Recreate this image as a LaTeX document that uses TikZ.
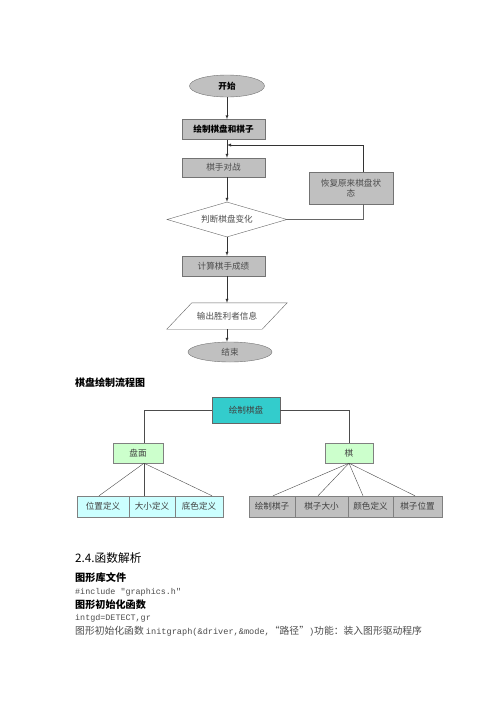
\documentclass[tikz,border=0pt]{standalone}
\usepackage{fontspec}
\setmainfont{Liberation Serif}
\newfontfamily\cjk{Noto Sans CJK SC}
\newfontfamily\mono{Liberation Mono}
\usetikzlibrary{arrows,shapes,shapes.geometric,calc}
\definecolor{teal1}{RGB}{51,204,204}
\definecolor{green1}{RGB}{204,255,204}
\definecolor{cyan1}{RGB}{204,255,255}
\definecolor{gray1}{RGB}{192,192,192}

\begin{document}
\begin{tikzpicture}[x=1pt,y=-1pt,font=\cjk\fontsize{8.6}{10}\selectfont,>=latex,
  graybox/.style={draw=black!55,fill=gray1,inner sep=0pt,text=black!70},
  treebox/.style={draw=black!50,inner sep=0pt,minimum height=21pt,text=black!75},
  flow/.style={color=black!80,->},
  link/.style={color=black!70}]
\useasboundingbox[fill=white] (0,0) rectangle (500,707);
% flow chart
\node (kaishi) at (227,86) [graybox,ellipse,minimum width=75pt,minimum height=22pt,text=black] {\textbf{开始}};
\node (huizhi) at (223.5,129.5) [graybox,minimum width=83pt,minimum height=20pt,text=black] {\textbf{绘制棋盘和棋子}};
\node (duizhan) at (223.5,167.5) [graybox,minimum width=83pt,minimum height=19pt] {棋手对战};
\node (huifu) at (351,188) [graybox,minimum width=84pt,minimum height=32pt,align=center] {恢复原来棋盘状\\态};
\node (panduan) at (227,219.5) [diamond,draw=black!60,fill=white,aspect=3.4,inner sep=0pt,minimum width=120pt,minimum height=35pt,text=black!70] {判断棋盘变化};
\node (jisuan) at (223.5,266) [graybox,minimum width=83pt,minimum height=20pt] {计算棋手成绩};
\node (shuchu) at (227,316) [inner sep=0pt,minimum width=95pt,minimum height=26pt,text=black!70] {输出胜利者信息};
\draw[color=black!60] ($(shuchu.south west)+(-12.5,0)$) -- ($(shuchu.north west)+(12.5,0)$)
  -- ($(shuchu.north east)+(12.5,0)$) -- ($(shuchu.south east)+(-12.5,0)$) -- cycle;
\node (jieshu) at (230,352) [graybox,ellipse,minimum width=84pt,minimum height=20pt] {结束};
\coordinate (fb) at (227,145);
\coordinate (fbx) at (363,188);
\draw[flow] (kaishi.south) -- (kaishi.south |- huizhi.north);
\draw[flow] (kaishi.south |- huizhi.south) -- (kaishi.south |- duizhan.north);
\draw[flow] (huifu.north -| fbx) |- (fb);
\draw[flow] (panduan.north |- duizhan.south) -- (panduan.north);
\draw[link,color=black!60] (panduan.east) -| (huifu.south -| fbx);
\draw[flow] (panduan.south) -- (panduan.south |- jisuan.north);
\draw[flow] (shuchu.north |- jisuan.south) -- (shuchu.north);
\draw[flow] (shuchu.south) -- (shuchu.south |- jieshu.north);
\node (caption) at (75,383) [anchor=west,inner sep=0pt,font=\cjk\fontsize{10}{12}\selectfont] {\textbf{棋盘绘制流程图}};
% tree
\node (qipan) at (246,410) [treebox,fill=teal1,minimum width=68pt,minimum height=26pt,draw=black!60] {绘制棋盘};
\node (panmian) at (138,453) [treebox,fill=green1,minimum width=50pt,minimum height=20pt] {盘面};
\node (qi) at (349,453) [treebox,fill=green1,minimum width=48pt,minimum height=20pt] {棋};
\node (weizhi) at (103,506.5) [treebox,fill=cyan1,minimum width=52pt] {位置定义};
\node (daxiao) at (152,506.5) [treebox,fill=cyan1,minimum width=46pt] {大小定义};
\node (dise) at (199,506.5) [treebox,fill=cyan1,minimum width=48pt] {底色定义};
\node (huizhiqizi) at (272,506.5) [treebox,fill=gray1,minimum width=46pt] {绘制棋子};
\node (qizidaxiao) at (321.5,506.5) [treebox,fill=gray1,minimum width=53pt] {棋子大小};
\node (yanse) at (370.5,506.5) [treebox,fill=gray1,minimum width=45pt] {颜色定义};
\node (qiziweizhi) at (417.5,506.5) [treebox,fill=gray1,minimum width=49pt] {棋子位置};
\coordinate (pm) at ($(panmian.south)+(6,0)$);
\draw[link] (qipan.west) -| (pm |- panmian.north);
\draw[link] (qipan.east) -| (qi.north);
\draw[link] (pm) -- ($(weizhi.north)+(-4,0)$);
\draw[link] (pm) -- ($(daxiao.north)+(-8,0)$);
\draw[link] (pm) -- ($(dise.north)+(13,0)$);
\draw[link] (qi.south) -- ($(huizhiqizi.north)+(1,0)$);
\draw[link] (qi.south) -- ($(qizidaxiao.north)+(-3.5,0)$);
\draw[link] (qi.south) -- ($(yanse.north)+(-7.5,0)$);
\draw[link] (qi.south) -- ($(qiziweizhi.north)+(-2.5,0)$);
% text below
\node (sec) at (75,558) [anchor=west,inner sep=0pt,font=\cjk\fontsize{11.7}{13}\selectfont] {2.4.函数解析};
\node (t1) at (75,578) [anchor=west,inner sep=0pt,font=\cjk\fontsize{10.2}{12}\selectfont] {\textbf{图形库文件}};
\node (t2) at (75,592) [anchor=west,inner sep=0pt,text=black!70,font=\mono\fontsize{8.4}{10}\selectfont] {\#include "graphics.h"};
\node (t3) at (75,605) [anchor=west,inner sep=0pt,font=\cjk\fontsize{10.1}{12}\selectfont] {\textbf{图形初始化函数}};
\node (t4) at (75,618) [anchor=west,inner sep=0pt,text=black!70,font=\mono\fontsize{8.4}{10}\selectfont] {intgd=DETECT,gr};
\node (t5) at (75,631) [anchor=west,inner sep=0pt,text=black!70,font=\cjk\fontsize{9.8}{12}\selectfont] {图形初始化函数 {\mono\fontsize{8.6}{12}\selectfont initgraph(\&driver,\&mode,}“路径”{\mono\fontsize{8.6}{12}\selectfont )}功能：装入图形驱动程序};
\end{tikzpicture}
\end{document}
